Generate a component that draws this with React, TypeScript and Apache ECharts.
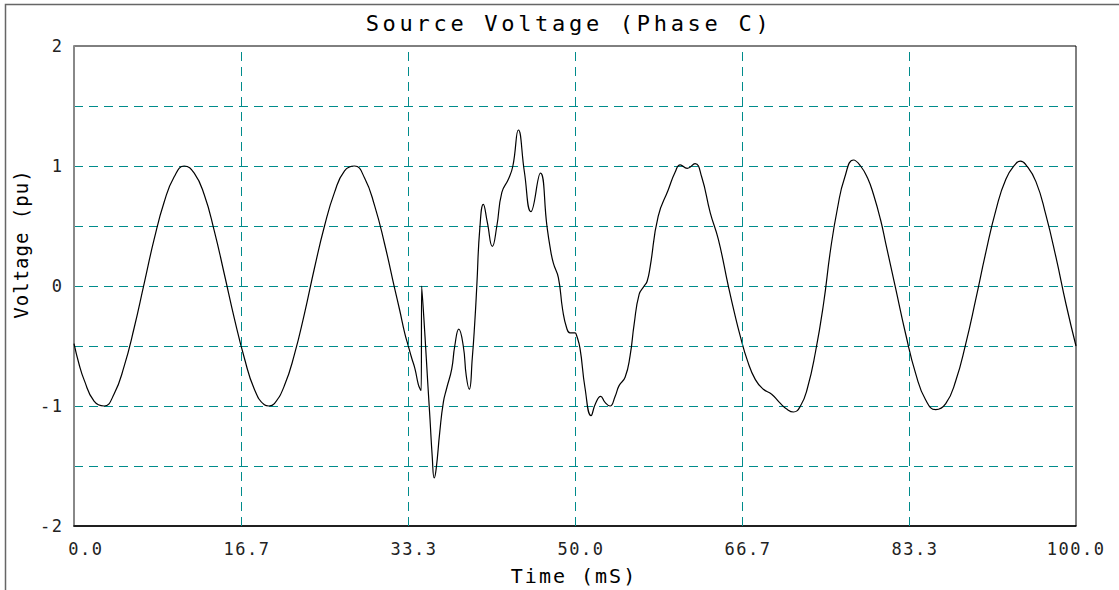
import { useEffect, useRef } from "react";
import * as echarts from "echarts";

// ---- data ----
const prefaultTime = [0, 0.5, 1, 2, 3, 4, 5, 6, 7, 8, 9, 10, 11, 12, 13, 14, 15, 16, 17, 18, 19, 19.45, 20, 21, 22, 23, 24, 25, 26, 27, 28, 29, 30, 31, 32, 32.5, 33, 33.33, 33.7, 34.03, 34.36, 34.55, 34.65];
const prefaultVolt = [-0.48, -0.65, -0.78, -0.96, -1.0, -0.9, -0.67, -0.35, 0.02, 0.39, 0.7, 0.91, 1.0, 0.94, 0.76, 0.46, 0.1, -0.27, -0.6, -0.86, -0.99, -1.0, -0.98, -0.83, -0.57, -0.23, 0.15, 0.5, 0.78, 0.96, 1.0, 0.9, 0.67, 0.35, -0.02, -0.2, -0.39, -0.49, -0.6, -0.69, -0.82, -0.86, -0.87];

const faultTime = [34.7, 35.03, 35.3, 35.53, 35.75, 35.95, 36.15, 36.5, 36.86, 37.2, 37.7, 38.0, 38.4, 38.85, 39.15, 39.45, 39.75, 40.0, 40.2, 40.5, 40.85, 41.25, 41.75, 42.2, 42.7, 43.35, 43.8, 44.35, 44.95, 45.6, 46.55, 47.2, 47.5, 47.84, 48.34, 48.77, 49.17, 49.5, 50.0, 50.15, 50.5, 51.0, 51.6, 52.05, 52.56, 53.0, 53.5, 54.0, 54.4, 55.0, 55.5, 55.9, 56.4, 56.9, 57.2, 57.5, 58.3, 59.3, 60.0, 60.5, 61.2, 61.98, 62.64, 63.5, 64.3, 65.3, 65.9];
const faultVolt = [0.0, -0.42, -0.8, -1.11, -1.42, -1.6, -1.52, -1.22, -0.97, -0.85, -0.69, -0.5, -0.36, -0.5, -0.75, -0.86, -0.6, -0.3, 0.0, 0.48, 0.68, 0.53, 0.33, 0.5, 0.78, 0.89, 1.0, 1.3, 0.95, 0.62, 0.94, 0.5, 0.33, 0.19, 0.07, -0.2, -0.35, -0.39, -0.39, -0.41, -0.52, -0.85, -1.08, -0.98, -0.92, -0.97, -1.0, -0.92, -0.83, -0.76, -0.58, -0.32, -0.07, 0.0, 0.04, 0.16, 0.58, 0.8, 0.95, 1.01, 0.98, 1.02, 0.91, 0.61, 0.39, 0.0, -0.22];

const recoveryTime = [66.5, 67.2, 68.0, 68.8, 69.6, 70.4, 71.2, 71.8, 72.5, 73.2, 74.0, 74.8, 75.5, 76.2, 76.9, 77.8, 78.5, 79.2, 79.8, 80.5, 81, 82, 83, 84, 85, 86, 87, 88, 89, 90, 91, 92, 93, 94, 94.45, 95, 96, 97, 98, 99, 100];
const recoveryVolt = [-0.42, -0.62, -0.78, -0.86, -0.9, -0.97, -1.03, -1.05, -1.0, -0.85, -0.55, -0.15, 0.3, 0.65, 0.9, 1.05, 1.0, 0.9, 0.76, 0.55, 0.36, -0.02, -0.4, -0.73, -0.95, -1.03, -0.98, -0.79, -0.48, -0.11, 0.28, 0.63, 0.89, 1.02, 1.04, 1.01, 0.87, 0.59, 0.24, -0.15, -0.5];

const xTickValues = [0, 16.667, 33.333, 50, 66.667, 83.333, 100];
const xTickLabels = ["0.0", "16.7", "33.3", "50.0", "66.7", "83.3", "100.0"];
const yTickLabels = [-2, -1, 0, 1, 2];

const titleText = "Source Voltage (Phase C)";
const xAxisTitle = "Time (mS)";
const yAxisTitle = "Voltage (pu)";

const FONT = "DejaVu Sans Mono";
const TEAL = "#008b8b";

const css = `
#chart text[style*="22px"]{letter-spacing:3.7px}
#chart text[style*="20px"]{letter-spacing:2px}
#chart text[style*="19px"]{letter-spacing:1px}
#chart text[style*="17px"]{letter-spacing:1.5px}
`;

export default function App() {
  const ref = useRef<HTMLDivElement>(null);

  useEffect(() => {
    if (!ref.current) return;
    const chart = echarts.init(ref.current, undefined, { renderer: "svg" });

    const times = [...prefaultTime, ...faultTime, ...recoveryTime];
    const volts = [...prefaultVolt, ...faultVolt, ...recoveryVolt];
    const data = times.map((t, i) => [t, volts[i]]);

    const vLines = xTickValues.slice(1, -1).map((v) => ({ xAxis: v }));

    chart.setOption({
      animation: false,
      backgroundColor: "#ffffff",
      grid: {
        left: 74,
        right: 43,
        top: 46,
        bottom: 64,
        show: true,
        borderColor: "#000",
        borderWidth: 1,
        backgroundColor: "transparent",
      },
      xAxis: {
        type: "value",
        min: 0,
        max: 100,
        axisLine: { show: true, onZero: false, lineStyle: { color: "#000", width: 1.5 } },
        axisTick: { show: false, customValues: xTickValues },
        splitLine: { show: false },
        axisLabel: {
          customValues: xTickValues,
          fontFamily: FONT,
          fontSize: 17,
          color: "#222",
          margin: 14,
          align: "right",
          padding: [0, -29.5, 0, 0],
          formatter: (v: number) => {
            const i = xTickValues.findIndex((x) => Math.abs(x - v) < 1e-3);
            return i >= 0 ? xTickLabels[i] : "";
          },
        },
      },
      yAxis: {
        type: "value",
        min: -2,
        max: 2,
        interval: 0.5,
        axisLine: { show: true, lineStyle: { color: "#888", width: 2 } },
        axisTick: { show: false },
        splitLine: {
          show: true,
          showMinLine: false,
          showMaxLine: false,
          lineStyle: { color: TEAL, type: [9, 6], width: 1 },
        },
        axisLabel: {
          fontFamily: FONT,
          fontSize: 17,
          color: "#222",
          margin: 10.5,
          formatter: (v: number) => (yTickLabels.includes(v) ? String(v) : ""),
        },
      },
      graphic: [
        {
          type: "rect",
          silent: true,
          z: -10,
          shape: { x: 5.5, y: 4.5, width: 1300, height: 800 },
          style: { fill: "none", stroke: "#666", lineWidth: 1.5 },
        },
        {
          type: "text",
          x: 569,
          y: 23.5,
          style: {
            text: titleText,
            fontFamily: FONT,
            fontSize: 22,
            fill: "#000",
            align: "center",
            verticalAlign: "middle",
            textAlign: "center",
            textVerticalAlign: "middle",
          },
        },
        {
          type: "text",
          x: 574,
          y: 576,
          style: {
            text: xAxisTitle,
            fontFamily: FONT,
            fontSize: 20,
            fill: "#000",
            align: "center",
            verticalAlign: "middle",
            textAlign: "center",
            textVerticalAlign: "middle",
          },
        },
        {
          type: "text",
          x: 21,
          y: 244,
          rotation: Math.PI / 2,
          style: {
            text: yAxisTitle,
            fontFamily: FONT,
            fontSize: 19,
            fill: "#000",
            align: "center",
            verticalAlign: "middle",
            textAlign: "center",
            textVerticalAlign: "middle",
          },
        },
      ],
      series: [
        {
          type: "line",
          data,
          showSymbol: false,
          smooth: 0.5,
          lineStyle: { color: "#000", width: 1.2 },
          silent: true,
          markLine: {
            silent: true,
            symbol: ["none", "none"],
            label: { show: false },
            lineStyle: { color: TEAL, type: [9, 6], width: 1 },
            data: vLines,
          },
        },
      ],
    });

    return () => chart.dispose();
  }, []);

  return (
    <>
      <style>{css}</style>
      <div
        id="chart"
        ref={ref}
        style={{ position: "fixed", left: 0, top: 0, width: 1119, height: 590 }}
      />
    </>
  );
}
